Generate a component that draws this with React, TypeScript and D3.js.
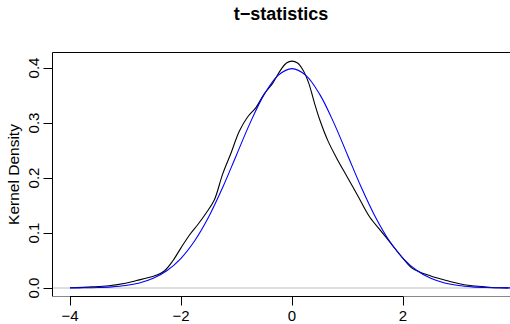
import React, {useEffect, useRef} from "react";
import * as d3 from "d3";

// kernel density of the t-statistics (black)
const tX = [-4.0, -3.6, -3.3, -3.0, -2.8, -2.6, -2.45, -2.3, -2.15, -2.0, -1.85, -1.7, -1.55, -1.4, -1.25, -1.1,
    -0.95, -0.8, -0.65, -0.5, -0.35, -0.2, -0.1, 0.0, 0.1, 0.2, 0.3, 0.4, 0.5, 0.65, 0.8, 1.0, 1.2, 1.4, 1.6, 1.8,
    2.0, 2.15, 2.3, 2.5, 2.7, 2.9, 3.1, 3.3, 3.6, 3.9];
const tY = [0.0005, 0.002, 0.004, 0.0085, 0.0135, 0.0185, 0.023, 0.031, 0.049, 0.073, 0.096, 0.115, 0.136, 0.16,
    0.207, 0.245, 0.285, 0.311, 0.328, 0.353, 0.372, 0.397, 0.409, 0.4125, 0.409, 0.396, 0.373, 0.338, 0.306, 0.267,
    0.237, 0.201, 0.165, 0.129, 0.104, 0.079, 0.054, 0.037, 0.029, 0.022, 0.016, 0.0105, 0.006, 0.0035, 0.001, 0.0003];

// reference normal density (blue)
const nX = [-4, -3.75, -3.5, -3.25, -3, -2.75, -2.5, -2.25, -2, -1.75, -1.5, -1.25, -1, -0.75, -0.5, -0.25, 0,
    0.25, 0.5, 0.75, 1, 1.25, 1.5, 1.75, 2, 2.25, 2.5, 2.75, 3, 3.25, 3.5, 3.75, 4];
const nY = [0.00013, 0.00035, 0.00087, 0.00203, 0.00443, 0.00909, 0.01753, 0.03174, 0.05399, 0.08628, 0.12952,
    0.18265, 0.24197, 0.30114, 0.35207, 0.38667, 0.39894, 0.38667, 0.35207, 0.30114, 0.24197, 0.18265, 0.12952,
    0.08628, 0.05399, 0.03174, 0.01753, 0.00909, 0.00443, 0.00203, 0.00087, 0.00035, 0.00013];

const xTicks = [-4, -2, 0, 2];
const yTicks = [0, 0.1, 0.2, 0.3, 0.4];

const fmtX = (d: number) => (d < 0 ? "\u2212" + Math.abs(d) : String(d));

const App: React.FC = () => {
    const ref = useRef<SVGSVGElement | null>(null);

    useEffect(() => {
        if (!ref.current) return;
        const svg = d3.select(ref.current);
        svg.selectAll("*").remove();

        const width = 510;
        const height = 324;
        const box = {left: 52.5, right: 510, top: 52.5, bottom: 296.5};

        const x = d3.scaleLinear().domain([-4, 2]).range([70, 403]);
        const y = d3.scaleLinear().domain([0, 0.4]).range([288, 68]);

        const font = "'Liberation Sans', Arial, Helvetica, sans-serif";

        svg.append("rect").attr("width", width).attr("height", height).attr("fill", "#fff");

        svg.append("defs").append("clipPath").attr("id", "plotclip")
            .append("rect")
            .attr("x", box.left).attr("y", box.top)
            .attr("width", box.right - box.left).attr("height", box.bottom - box.top);

        const plot = svg.append("g").attr("clip-path", "url(#plotclip)");

        // zero reference line
        plot.append("line")
            .attr("x1", box.left).attr("x2", box.right)
            .attr("y1", y(0)).attr("y2", y(0))
            .attr("stroke", "#d3d3d3").attr("stroke-width", 1.3);

        const tLine = d3.line<number>()
            .x((_, i) => x(tX[i]))
            .y((d) => y(d))
            .curve(d3.curveCatmullRom.alpha(0.5));

        const nLine = d3.line<number>()
            .x((_, i) => x(nX[i]))
            .y((d) => y(d))
            .curve(d3.curveCatmullRom.alpha(0.5));

        plot.append("path").attr("d", tLine(tY) || "")
            .attr("fill", "none").attr("stroke", "#000").attr("stroke-width", 1.1);

        plot.append("path").attr("d", nLine(nY) || "")
            .attr("fill", "none").attr("stroke", "#0000ff").attr("stroke-width", 1.1);

        // box
        svg.append("path")
            .attr("d", `M${box.right},${box.top}H${box.left}V${box.bottom}`)
            .attr("fill", "none").attr("stroke", "#000").attr("stroke-width", 1);
        svg.append("line")
            .attr("x1", box.left).attr("x2", box.right)
            .attr("y1", box.bottom).attr("y2", box.bottom)
            .attr("stroke", "#888").attr("stroke-width", 1);

        // x axis
        const xAxis = svg.append("g").attr("transform", `translate(0,${box.bottom})`);
        xAxis.append("line")
            .attr("x1", x(xTicks[0])).attr("x2", x(xTicks[xTicks.length - 1]))
            .attr("stroke", "#000");
        xAxis.selectAll(".tick")
            .data(xTicks)
            .join("line")
            .attr("class", "tick")
            .attr("x1", (d) => Math.round(x(d)) + 0.5).attr("x2", (d) => Math.round(x(d)) + 0.5)
            .attr("y1", 0).attr("y2", 9)
            .attr("stroke", "#000");
        xAxis.selectAll(".lab")
            .data(xTicks)
            .join("text")
            .attr("class", "lab")
            .attr("x", (d) => x(d))
            .attr("y", 24.5)
            .attr("text-anchor", "middle")
            .attr("font-family", font)
            .attr("font-size", "15px")
            .text((d) => fmtX(d));

        // y axis
        const yAxis = svg.append("g").attr("transform", `translate(${box.left},0)`);
        yAxis.selectAll(".tick")
            .data(yTicks)
            .join("line")
            .attr("class", "tick")
            .attr("x1", -9).attr("x2", 0)
            .attr("y1", (d) => Math.round(y(d)) + 0.5).attr("y2", (d) => Math.round(y(d)) + 0.5)
            .attr("stroke", "#000");
        yAxis.selectAll(".lab")
            .data(yTicks)
            .join("text")
            .attr("class", "lab")
            .attr("transform", (d) => `translate(-13.5,${y(d)}) rotate(-90)`)
            .attr("text-anchor", "middle")
            .attr("font-family", font)
            .attr("font-size", "15px")
            .text((d) => d3.format(".1f")(d));

        svg.append("text")
            .attr("transform", `translate(18.5,${(box.top + box.bottom) / 2}) rotate(-90)`)
            .attr("text-anchor", "middle")
            .attr("font-family", font)
            .attr("font-size", "15.5px")
            .text("Kernel Density");

        svg.append("text")
            .attr("x", 281)
            .attr("y", 20)
            .attr("text-anchor", "middle")
            .attr("font-family", font)
            .attr("font-size", "18px")
            .attr("font-weight", "bold")
            .text("t\u2212statistics");
    }, []);

    return (
        <svg
            ref={ref}
            width={510}
            height={324}
            style={{position: "absolute", left: 0, top: 0, display: "block"}}
        ></svg>
    );
};

export default App;
